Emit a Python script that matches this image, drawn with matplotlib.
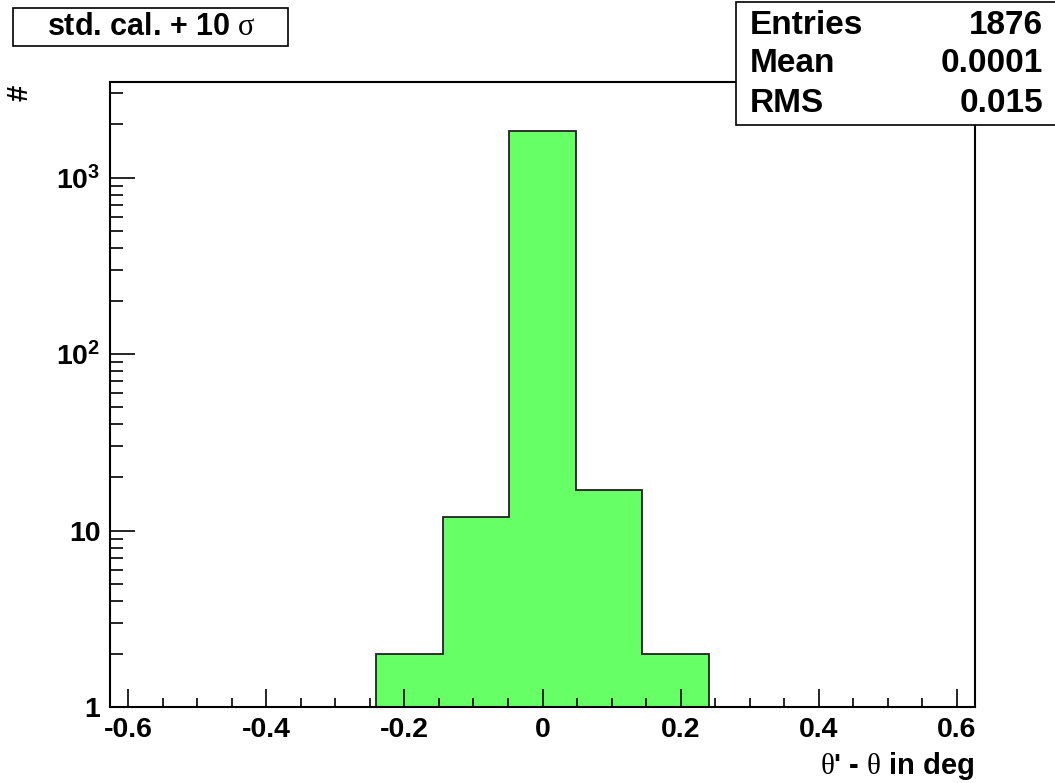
import numpy as np
import matplotlib
matplotlib.use("Agg")
import matplotlib.pyplot as plt
from matplotlib.patches import Rectangle
from matplotlib.ticker import FixedLocator, FixedFormatter, MultipleLocator

plt.rcParams['font.family'] = ['Liberation Sans', 'DejaVu Sans']
plt.rcParams['font.weight'] = 'bold'
plt.rcParams['mathtext.fontset'] = 'custom'
plt.rcParams['mathtext.rm'] = 'Liberation Serif:weight=normal'
plt.rcParams['mathtext.it'] = 'Liberation Serif:italic:weight=normal'
plt.rcParams['mathtext.bf'] = 'Liberation Sans:bold'

# --- data ---
bin_edges = [-0.2407, -0.1444, -0.0481, 0.0481, 0.1444, 0.2407]
counts = [2, 12, 1843, 17, 2]
stat_names = ['Entries', 'Mean', 'RMS']
stat_values = ['1876', '0.0001', '0.015']
x_ticks = [-0.6, -0.4, -0.2, 0, 0.2, 0.4, 0.6]
x_ticklabels = ['-0.6', '-0.4', '-0.2', '0', '0.2', '0.4', '0.6']
y_ticks = [1, 10, 100, 1000]
y_ticklabels = ['1', '10', r'$\mathbf{10^{2}}$', r'$\mathbf{10^{3}}$']

W, H = 1055, 783
fig = plt.figure(figsize=(W / 100, H / 100), dpi=100)
fig.patch.set_facecolor('white')

# axes frame in pixel coords
left, right, top, bottom = 110, 975, 82, 707
ax = fig.add_axes([left / W, 1 - bottom / H, (right - left) / W, (bottom - top) / H])

ax.stairs(counts, bin_edges, baseline=1, fill=True, color='#66ff66')
ax.stairs(counts, bin_edges, baseline=1, color='#222222', linewidth=1.3)

ax.set_yscale('log')
ax.set_xlim(-0.626, 0.626)
ax.set_ylim(1, 3480)

ax.xaxis.set_major_locator(FixedLocator(x_ticks))
ax.xaxis.set_major_formatter(FixedFormatter(x_ticklabels))
ax.xaxis.set_minor_locator(MultipleLocator(0.05))
ax.yaxis.set_major_locator(FixedLocator(y_ticks))
ax.yaxis.set_major_formatter(FixedFormatter(y_ticklabels))

for sp in ax.spines.values():
    sp.set_linewidth(1.5)

ax.tick_params(axis='x', which='major', direction='in', length=13, width=1.2,
               labelsize=20.5, pad=7, top=False)
ax.tick_params(axis='x', which='minor', direction='in', length=6.5, width=1.2, top=False)
ax.tick_params(axis='y', which='major', direction='in', length=18, width=1.2,
               labelsize=20.5, pad=7, right=False)
ax.tick_params(axis='y', which='minor', direction='in', length=9, width=1.2, right=False)
ax.yaxis.set_minor_formatter(FixedFormatter([]))

# axis titles
fig.text(975 / W, 1 - 766 / H, r"$\mathrm{\theta}$' - $\mathrm{\theta}$ in deg",
         ha='right', va='center', fontsize=21, fontweight='bold')
fig.text(20 / W, 1 - 93 / H, '#', ha='center', va='center', rotation=90,
         fontsize=21, fontweight='bold')

# title box
fig.add_artist(Rectangle((13 / W, 1 - 46 / H), 275 / W, 38 / H, transform=fig.transFigure,
                         facecolor='white', edgecolor='black', linewidth=1.2))
fig.text(151 / W, 1 - 27 / H, r'std. cal. + 10 $\mathrm{\sigma}$', ha='center', va='center',
         fontsize=22, fontweight='bold')

# stats box
fig.add_artist(Rectangle((736 / W, 1 - 125 / H), 330 / W, 123 / H, transform=fig.transFigure,
                         facecolor='white', edgecolor='black', linewidth=1.2, zorder=5))
for i, (name, val) in enumerate(zip(stat_names, stat_values)):
    yc = 1 - (25 + 39 * i) / H
    fig.text(750 / W, yc, name, ha='left', va='center', fontsize=24, fontweight='bold', zorder=6)
    fig.text(1043 / W, yc, val, ha='right', va='center', fontsize=24, fontweight='bold', zorder=6)

fig.savefig('out.png', dpi=100)
